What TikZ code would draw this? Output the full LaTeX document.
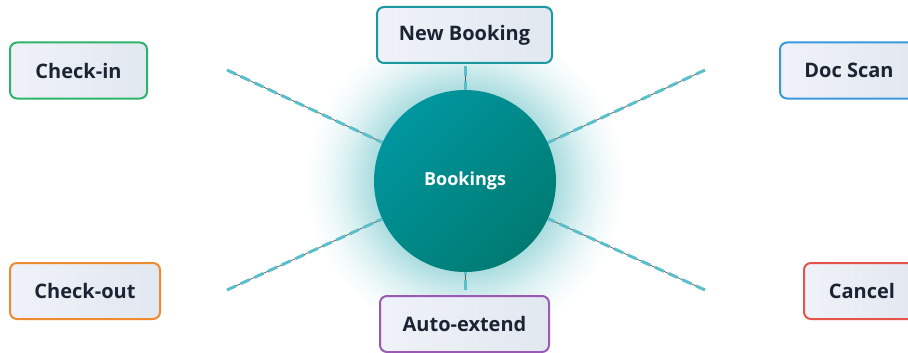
\documentclass[tikz,border=0pt]{standalone}
\usepackage{fontspec}
\setmainfont{Open Sans}
\usepackage{tikz}

\definecolor{ink}{HTML}{1B2433}
\definecolor{hubA}{HTML}{00969F}
\definecolor{hubB}{HTML}{007B72}
\definecolor{glowteal}{HTML}{A9DCDF}
\definecolor{dashc}{HTML}{5BBFCB}
\definecolor{underc}{HTML}{5A5A5A}
\definecolor{boxA}{HTML}{EFF2F8}
\definecolor{boxB}{HTML}{E2E8F0}
\definecolor{greenb}{HTML}{2DB36A}
\definecolor{tealb}{HTML}{1A98A0}
\definecolor{blueb}{HTML}{3C98DD}
\definecolor{orangeb}{HTML}{EE8A2F}
\definecolor{redb}{HTML}{E4544A}
\definecolor{purpleb}{HTML}{9B59B6}
\colorlet{glowhi}{glowteal!70!white}
\colorlet{glowmid}{glowteal!40!white}
\colorlet{glowlow}{glowteal!15!white}

\pgfdeclareradialshading{hubglow}{\pgfpoint{0bp}{0bp}}{color(0bp)=(glowteal); color(14bp)=(glowteal); color(16.5bp)=(glowhi); color(19bp)=(glowmid); color(22bp)=(glowlow); color(25bp)=(white); color(50bp)=(white)}

\begin{document}
\begin{tikzpicture}[x=1pt,y=-1pt]

        \fill[white] (0,0) rectangle (908,353);
        \useasboundingbox (0,0) rectangle (908,353);
        \shade[shading=hubglow] (465,181) circle (160);

        \coordinate (ul) at (227,70);
        \coordinate (ll) at (227,290);
        \coordinate (ur) at (705,70);
        \coordinate (lr) at (705,290);
        \coordinate (tp) at (465,66);
        \coordinate (bt) at (465,290);

        \begin{scope}[every node/.style={circle, minimum size=182pt, inner sep=0pt,
            top color=hubA, bottom color=hubB, shading angle=45, text=white,
            font=\fontsize{18}{21}\selectfont\bfseries}]
          \node (hub) at (465,181) {Bookings};
        \end{scope}

        \begin{scope}[every edge/.style={draw=dashc, line width=3pt, dash pattern=on 10pt off 5pt,
            preaction={draw=underc, line width=0.7pt, solid}}]
          \path (ul) edge (hub);
          \path (ll) edge (hub);
          \path (ur) edge (hub);
          \path (lr) edge (hub);
          \path (tp) edge (hub);
          \path (bt) edge (hub);
        \end{scope}

        \begin{scope}[every node/.style={rectangle, rounded corners=7pt, line width=2pt,
            minimum height=56pt, inner sep=0pt, left color=boxA, right color=boxB,
            text=ink, font=\fontsize{20}{24}\selectfont\bfseries}]
          \node[draw=greenb,  minimum width=137pt] (checkin)  at (78.5,70.5) {Check-in};
          \node[draw=tealb,   minimum width=175pt] (newbook)  at (464.5,35)  {New Booking};
          \node[draw=blueb,   minimum width=138pt] (docscan)  at (849,70.5)  {Doc Scan};
          \node[draw=orangeb, minimum width=150pt] (checkout) at (85,291)    {Check-out};
          \node[draw=redb,    minimum width=116pt] (cancel)   at (862,291)   {Cancel};
          \node[draw=purpleb, minimum width=169pt] (autoext)  at (464.5,324) {Auto-extend};
        \end{scope}

      \end{tikzpicture}
\end{document}
